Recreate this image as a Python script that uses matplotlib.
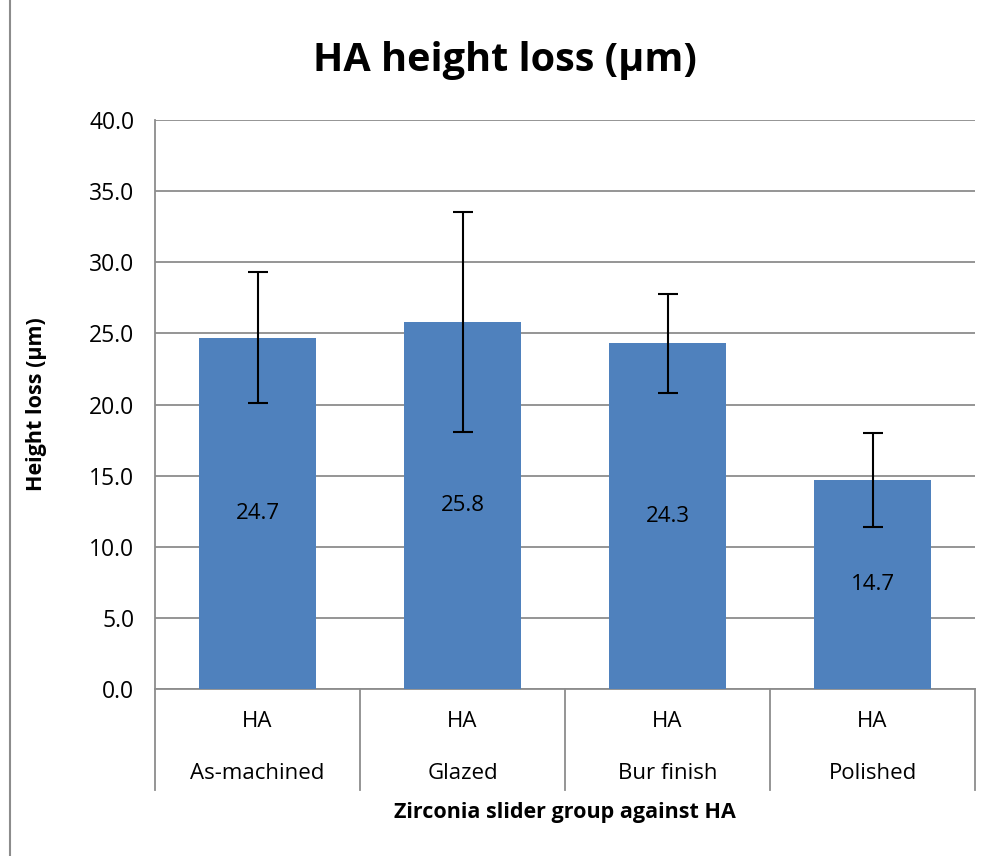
import matplotlib.pyplot as plt
from matplotlib.lines import Line2D

groups = ["As-machined", "Glazed", "Bur finish", "Polished"]
material = ["HA", "HA", "HA", "HA"]
height_loss = [24.7, 25.8, 24.3, 14.7]
errors = [4.6, 7.7, 3.5, 3.3]
yticks = [0, 5, 10, 15, 20, 25, 30, 35, 40]

plt.rcParams['font.family'] = ['Open Sans', 'DejaVu Sans']

fig = plt.figure(figsize=(9.94, 8.56), dpi=100)
ax = fig.add_axes([0.156, 0.1951, 0.825, 0.6647])

x = list(range(len(groups)))
ax.bar(x, height_loss, width=0.57, color="#4F81BD", zorder=3)
ax.errorbar(x, height_loss, yerr=errors, fmt="none", ecolor="black",
            elinewidth=1.5, capsize=7, capthick=1.5, zorder=4)

for xi, v in zip(x, height_loss):
    ax.text(xi, v / 2, f"{v:.1f}", ha="center", va="center", fontsize=16, zorder=5)

ax.set_xlim(-0.5, len(groups) - 0.5)
ax.set_ylim(0, 40)
ax.set_yticks(yticks)
ax.set_yticklabels([f"{t:.1f}" for t in yticks], fontsize=16.5)
ax.yaxis.grid(True, color="#8c8c8c", linewidth=1.3, zorder=0)
ax.tick_params(axis="y", length=0, pad=15)
ax.tick_params(axis="x", length=0, labelbottom=False)
for s in ["top", "right"]:
    ax.spines[s].set_visible(False)
ax.spines["left"].set_color("#8c8c8c")
ax.spines["bottom"].set_color("#8c8c8c")
ax.spines["left"].set_linewidth(1.3)
ax.spines["bottom"].set_linewidth(1.3)

# two-level category axis
trans = ax.get_xaxis_transform()
for b in range(len(groups) + 1):
    ax.add_line(Line2D([b - 0.5, b - 0.5], [0, -0.178], transform=trans,
                       color="#8c8c8c", linewidth=1.3, clip_on=False))
for xi, m, g in zip(x, material, groups):
    ax.text(xi, -0.058, m, transform=trans, ha="center", va="center", fontsize=16)
    ax.text(xi, -0.148, g, transform=trans, ha="center", va="center", fontsize=16)

fig.text(0.568, 0.051, "Zirconia slider group against HA", ha="center", va="center",
         fontsize=15.5, fontweight="bold")
fig.text(0.037, 0.528, "Height loss (µm)", ha="center", va="center", rotation=90,
         fontsize=15.5, fontweight="bold")
fig.text(0.508, 0.929, "HA height loss (µm)", ha="center", va="center",
         fontsize=28.5, fontweight="bold")

fig.add_artist(Line2D([0.0105, 0.0105], [0.0, 1.0], color="#8c8c8c", linewidth=1.5))

fig.savefig("out.png", dpi=100)
